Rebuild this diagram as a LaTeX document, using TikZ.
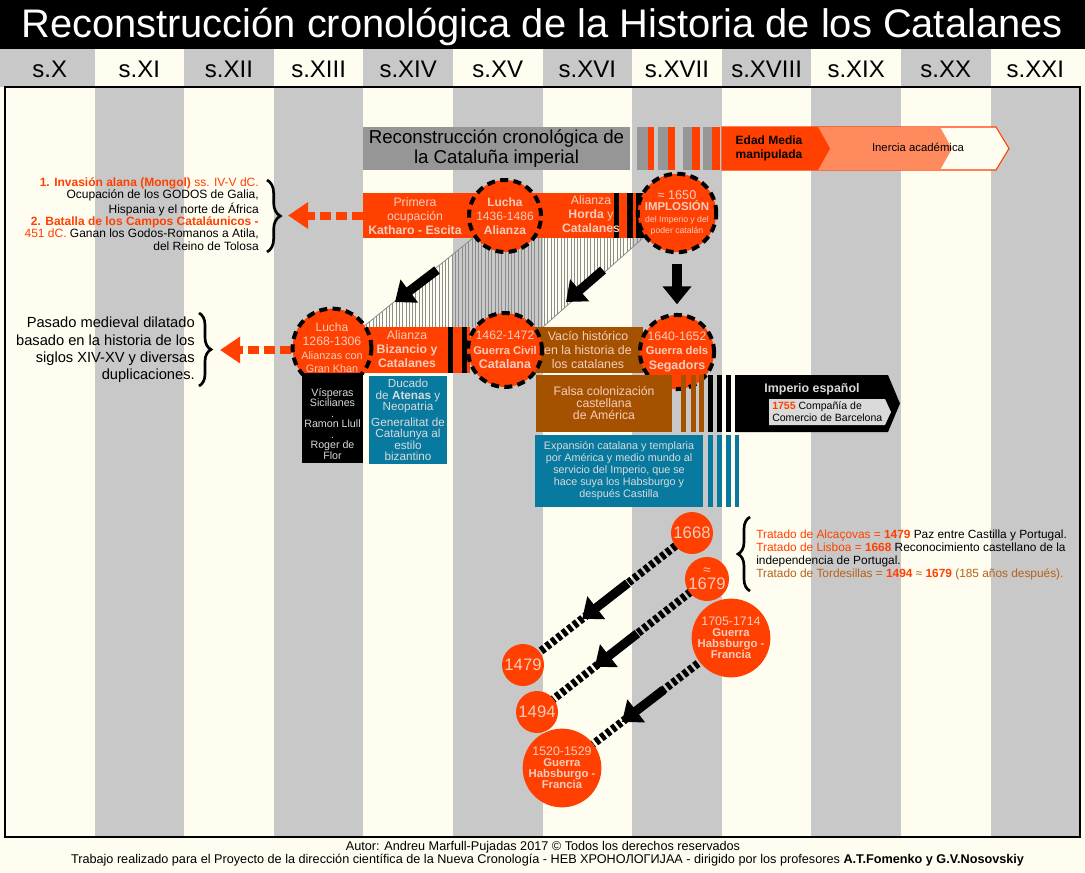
\documentclass[tikz,border=0pt]{standalone}
\usepackage{fontspec}
\setmainfont{Liberation Sans}
\usetikzlibrary{arrows.meta,decorations.pathreplacing,calc}

\definecolor{cream}{RGB}{255,253,240}
\definecolor{colgray}{RGB}{200,200,200}
\definecolor{boxgray}{RGB}{150,150,150}
\definecolor{hot}{RGB}{255,64,0}
\definecolor{salmon}{RGB}{255,138,94}
\definecolor{rust}{RGB}{165,82,0}
\definecolor{sea}{RGB}{8,122,160}
\definecolor{pale}{RGB}{246,205,190}
\definecolor{pgray}{RGB}{218,218,218}
\definecolor{tordes}{RGB}{184,96,24}

\newcommand{\fs}[2]{\fontsize{#1}{#2}\selectfont}

\begin{document}
\begin{tikzpicture}[x=0.75pt, y=-0.75pt,
  every node/.style={inner sep=0pt, align=center},
  lucha/.style={circle, fill=hot, draw=black, line width=3pt, dash pattern=on 6pt off 4pt, text=pale, minimum size=#1},
  fecha/.style={circle, fill=hot, text=pale, minimum size=#1},
  band/.style={fill=hot, text=pale},
  bigarrow/.style={line width=6.8pt, -{Triangle[length=13.5pt, width=21pt]}},
  redarrow/.style={hot, line width=6pt, dash pattern=on 8pt off 4pt, -{Triangle[length=15pt, width=19pt]}},
  railway/.style={line width=6pt, dash pattern=on 3.2pt off 2pt},
  llave/.style={decorate, decoration={brace, amplitude=#1}, line width=2pt}
]
\useasboundingbox (0,0) rectangle (1085,872);

% fondo, titulo y siglos
\fill[cream] (0,0) rectangle (1085,872);
\fill[black] (0,0) rectangle (1085,49);
\node[text=white, font=\fs{29.9}{30}] (titulo) at (542,27) {Reconstrucción cronológica de la Historia de los Catalanes};
\fill[colgray] (0,49) rectangle (5,87);
\fill[cream] (1080,49) rectangle (1085,87);
\foreach \s [count=\i from 0] in {X,XI,XII,XIII,XIV,XV,XVI,XVII,XVIII,XIX,XX,XXI} {
  \ifodd\i \def\hc{cream}\def\bc{colgray}\else \def\hc{colgray}\def\bc{cream}\fi
  \fill[\bc] ({5+89.6*\i},87) rectangle ({5+89.6*(\i+1)},837);
  \fill[\hc] ({5+89.6*\i},49) rectangle ({5+89.6*(\i+1)},87);
  \node[font=\fs{18}{18}] (sig\i) at ({49.8+89.6*\i},69) {s.\s};
}
\draw[line width=0.9pt] (5,87) rectangle (1080,837);

% rayado entre filas
\begin{scope}
  \clip (473,238) -- (643,238) -- (543,327) -- (363,327) -- cycle;
  \foreach \x in {363,366.3,...,645} \draw[black!45, line width=0.5pt] (\x,238) -- (\x,327);
\end{scope}
\draw[black!45, line width=0.6pt] (473,238) -- (363,327) (643,238) -- (543,327);

% cabecera
\node[fill=boxgray, minimum width=200.25pt, minimum height=32.25pt, font=\fs{14}{15.5}] (reco) at (496.5,148.5) {Reconstrucción cronológica de\\la Cataluña imperial};
\foreach \a/\b/\c in {637/648/boxgray, 648/654/hot, 658/668/boxgray, 668/675/hot, 683/692/boxgray, 692/700/hot, 703/712/boxgray, 712/720/hot}
  \fill[\c] (\a,127) rectangle (\b,170);
\draw[hot, fill=cream, line width=0.8pt] (722,127) -- (996,127) -- (1009,148.5) -- (996,170) -- (722,170) -- cycle;
\fill[salmon] (818,127) -- (940,127) -- (952,148.5) -- (940,170) -- (818,170) -- cycle;
\fill[hot] (722,127) -- (818,127) -- (830,148.5) -- (818,170) -- (722,170) -- cycle;
\node[font=\bfseries\fs{9}{11}] (edad) at (769,148.5) {Edad Media\\manipulada};
\node[font=\fs{8.5}{10}] (inercia) at (918,147) {Inercia académica};

% fila 1
\node[band, minimum width=222.75pt, minimum height=33.75pt, anchor=west] (banda1) at (363,215.5) {};
\foreach \a/\b in {614/619, 627/633, 636/660} \fill (\a,193) rectangle (\b,238);
\node[text=pale, font=\fs{9.2}{10.5}] (primera) at (415,216) {Primera\\ocupación\\\textbf{Katharo - Escita}};
\node[text=pale, font=\fs{9.2}{10.5}] (horda) at (591,214) {Alianza\\\textbf{Horda} y\\\textbf{Catalanes}};

% fila 2
\node[band, minimum width=86.25pt, minimum height=34.5pt, anchor=west] (banda2) at (355,350) {};
\foreach \a/\b in {448/453, 462/467} \fill (\a,327) rectangle (\b,373);
\node[text=pale, font=\fs{9.2}{10.5}] (bizancio) at (407,349) {Alianza\\\textbf{Bizancio y}\\\textbf{Catalanes}};
\node[fill=rust, text=pale, minimum width=82.5pt, minimum height=34.5pt, font=\fs{9.3}{10.5}] (vacio) at (588,350) {Vacío histórico\\en la historia de\\los catalanes};

% llaves y flechas rojas
\coordinate (llave1) at (288,215.5);
\coordinate (llave2) at (220,350);
\draw[redarrow] (banda1.west) -- (llave1);
\draw[redarrow] (banda2.west) -- (llave2);
\draw[llave=10pt] (267,180) -- (267,252);
\draw[llave=9pt] (199,313) -- (199,386);
\node[anchor=east, align=right, font=\fs{9}{9.3}] (godos) at (259,214) {\textcolor{hot}{\textbf{1. Invasión alana (Mongol)} ss. IV-V dC.}\\Ocupación de los GODOS de Galia,\\Hispania y el norte de África\\\textcolor{hot}{\textbf{2. Batalla de los Campos Cataláunicos -}}\\\textcolor{hot}{451 dC.} Ganan los Godos-Romanos a Atila,\\del Reino de Tolosa};
\node[anchor=east, align=right, font=\fs{11}{13}] (pasado) at (195,350) {Pasado medieval dilatado\\basado en la historia de los\\siglos XIV-XV y diversas\\duplicaciones.};

% circulos de lucha
\node[lucha=54pt, font=\fs{9}{10.5}] (lucha1) at (505,216) {\textbf{Lucha}\\1436-1486\\\textbf{Alianza}};
\node[lucha=52.5pt, font=\fs{7}{8.6}] (implosion) at (677,213) {{\fs{9.5}{10}≈ 1650}\\{\bfseries\fs{8.6}{10}IMPLOSIÓN}\\{\fs{6.5}{8}del Imperio y del}\\{\fs{6.5}{8}poder catalán}};
\node[lucha=55.5pt, font=\fs{8}{10.3}] (lucha2) at (332,348) {{\fs{9}{10}Lucha}\\{\fs{9.2}{10}1268-1306}\\{\fs{8.1}{9}Alianzas con}\\{\fs{8.1}{9}Gran Khan}};
\node[lucha=52.5pt, font=\fs{8.5}{11}] (civil) at (505,350) {{\fs{9.2}{10}1462-1472}\\{\bfseries\fs{8.4}{10}Guerra Civil}\\{\bfseries\fs{9.4}{10}Catalana}};
\node[lucha=55.5pt, font=\fs{8.5}{11}] (segadors) at (677,352) {{\fs{9.2}{10}1640-1652}\\{\bfseries\fs{8.4}{10}Guerra dels}\\{\bfseries\fs{9.3}{10}Segadors}};

% flechas negras
\coordinate (f1a) at (437,270);
\coordinate (f1b) at (395,302);
\coordinate (f2a) at (603,270);
\coordinate (f2b) at (566,302);
\draw[bigarrow] (f1a) -- (f1b);
\draw[bigarrow] (f2a) -- (f2b);
\draw[bigarrow, shorten <=7.5pt, shorten >=6.5pt] (implosion.south) -- (segadors.north);

% cajas inferiores
\node[fill=black, minimum width=45.75pt, minimum height=67.5pt] (visperas) at (332.5,418) {};
\node[text=pgray, font=\fs{8}{7.9}] (visptxt) at (332.5,424) {Vísperas\\Sicilianes\\.\\Ramon Llull\\.\\Roger de\\Flor};
\node[fill=sea, draw=cream, line width=1pt, text=pgray, minimum width=60pt, minimum height=67.5pt, font=\fs{8.8}{8.6}] (atenas) at (408,420) {Ducado\\de \textbf{Atenas} y\\Neopatria\\[3pt]Generalitat de\\Catalunya al\\estilo\\bizantino};
\node[fill=rust, text=pale, minimum width=102pt, minimum height=42.75pt, font=\fs{9.2}{9}] (falsa) at (604,403.5) {Falsa colonización\\castellana\\de América};
\foreach \a/\b/\c in {681/686/rust, 691/696/rust, 699/704/rust, 708/713/black, 717/722/black, 726/731/black}
  \fill[\c] (\a,375) rectangle (\b,432);
\fill (735,375) -- (888,375) -- (900,403.5) -- (888,432) -- (735,432) -- cycle;
\node[text=pgray, font=\bfseries\fs{9.3}{10}] (imperio) at (812,389) {Imperio español};
\fill[pgray] (769,399) -- (885,399) -- (891,412) -- (885,425) -- (769,425) -- cycle;
\node[anchor=west, align=left, font=\fs{7.9}{9}] (compania) at (772,412) {\textcolor{hot}{\textbf{1755}} Compañía de\\Comercio de Barcelona};
\node[fill=sea, text=pgray, minimum width=126pt, minimum height=54pt, font=\fs{8.1}{9}] (expansion) at (619,471) {Expansión catalana y templaria\\por América y medio mundo al\\servicio del Imperio, que se\\hace suya los Habsburgo y\\después Castilla};
\foreach \a/\b in {708/713, 717/722, 726/731, 735/739}
  \fill[sea] (\a,435) rectangle (\b,507);

% tratados
\draw[llave=9pt] (750,591) -- (750,517);
\node[anchor=west, align=left, font=\fs{8.9}{9.7}] (tratados) at (756,555) {\textcolor{hot}{Tratado de Alcaçovas = \textbf{1479}} Paz entre Castilla y Portugal.\\\textcolor{hot}{Tratado de Lisboa = \textbf{1668}} Reconocimiento castellano de la\\independencia de Portugal.\\\textcolor{tordes}{Tratado de Tordesillas = \textcolor{hot}{\textbf{1494}} ≈ \textcolor{hot}{\textbf{1679}} (185 años después).}};

% fechas duplicadas
\coordinate (p1668) at (692,533);
\coordinate (p1679) at (707,579);
\coordinate (p1705) at (731,638);
\coordinate (p1479) at (523,665);
\coordinate (p1494) at (537,712);
\coordinate (p1520) at (562,768);
\draw[railway] (p1668) -- (p1479);
\draw[railway] (p1679) -- (p1494);
\draw[railway] (p1705) -- (p1520);
\draw[bigarrow] ($(p1668)!0.38!(p1479)$) -- ($(p1668)!0.65!(p1479)$);
\draw[bigarrow] ($(p1679)!0.41!(p1494)$) -- ($(p1679)!0.66!(p1494)$);
\draw[bigarrow] ($(p1705)!0.40!(p1520)$) -- ($(p1705)!0.645!(p1520)$);
\node[fecha=31.5pt, font=\fs{12.5}{13}] (c1668) at (p1668) {1668};
\node[fecha=33pt, font=\fs{12.5}{11}] (c1679) at (p1679) {{\fs{10}{10}≈}\\1679};
\node[fecha=52.5pt, font=\fs{8.5}{8.3}] (c1705) at (p1705) {{\fs{9.3}{10}1705-1714}\\\textbf{Guerra}\\\textbf{Habsburgo -}\\\textbf{Francia}};
\node[fecha=31.5pt, font=\fs{12.5}{13}] (c1479) at (p1479) {1479};
\node[fecha=31.5pt, font=\fs{12.5}{13}] (c1494) at (p1494) {1494};
\node[fecha=52.5pt, font=\fs{8.5}{8.3}] (c1520) at (p1520) {{\fs{9.3}{10}1520-1529}\\\textbf{Guerra}\\\textbf{Habsburgo -}\\\textbf{Francia}};

% pie
\node[font=\fs{9.5}{10}] (autor) at (543,847) {Autor: Andreu Marfull-Pujadas 2017 © Todos los derechos reservados};
\node[font=\fs{9.5}{10}] (trabajo) at (547.5,860) {Trabajo realizado para el Proyecto de la dirección científica de la Nueva Cronología - НЕВ ХРОНОЛОГИЈАА - dirigido por los profesores \textbf{A.T.Fomenko y G.V.Nosovskiy}};
\end{tikzpicture}
\end{document}
